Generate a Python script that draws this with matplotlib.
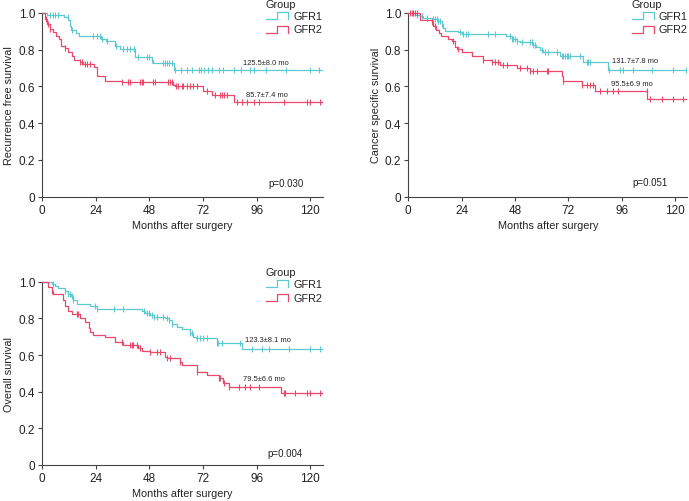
import matplotlib
matplotlib.use("Agg")
import matplotlib.pyplot as plt
from matplotlib.lines import Line2D
import numpy as np

plt.rcParams['font.family'] = ['Liberation Sans', 'DejaVu Sans']

CYAN = '#5cc8d2'
RED = '#e8496b'
END_T = 125

# ---- Recurrence free survival ----
rfs_g1_t = [2.4, 10, 11.7, 12.4, 13, 15, 16.6, 26.6, 28.8, 32.6, 34.8, 41.5, 49, 49.8, 59]
rfs_g1_s = [0.99, 0.98, 0.96, 0.93, 0.907, 0.89, 0.875, 0.858, 0.845, 0.822, 0.804, 0.758, 0.744, 0.727, 0.688]
rfs_g1_c = [3.5, 5, 6, 7, 11.5, 13.5, 23, 24.5, 26, 27, 29, 33, 36, 38, 39.5, 41, 43, 47, 48, 49,
            54, 55, 56, 57, 58, 59.5, 62, 65, 67, 70, 71, 72.5, 74, 76, 79, 81, 86, 89, 93, 95,
            100, 109, 120, 124]
rfs_g2_t = [1.2, 2.4, 3.4, 5, 6.4, 7.5, 8.4, 10.2, 11.7, 13.2, 14.2, 16.9, 18.4, 23.3, 24.4,
            28.1, 35.6, 58.7, 59.5, 72.2, 75.9, 86]
rfs_g2_s = [0.97, 0.94, 0.913, 0.895, 0.875, 0.858, 0.822, 0.81, 0.786, 0.764, 0.744, 0.735,
            0.72, 0.704, 0.659, 0.632, 0.622, 0.608, 0.6, 0.577, 0.552, 0.514]
rfs_g2_c = [2, 2.7, 3.4, 10.2, 16.9, 18, 19.1, 19.9, 21.4, 35.6, 38.6, 39.3, 43.8, 44.5, 45.3,
            49.8, 50.5, 56.5, 57.3, 58, 59.8, 61, 62.5, 63.2, 64.7, 66.2, 67.7, 69.2, 73.7, 77.4,
            79.7, 80.4, 81.2, 82.7, 87.1, 89.4, 91.6, 94.6, 96.9, 108.1, 118.6, 120, 124.5]

# ---- Cancer specific survival ----
css_g1_t = [3, 5.2, 6.8, 10.5, 13.5, 15, 15.8, 16.5, 22.5, 24, 44, 46.5, 48.8, 50.3, 56, 57.5,
            59.3, 60.8, 68.3, 78.5, 90]
css_g1_s = [0.99, 0.985, 0.975, 0.97, 0.958, 0.94, 0.92, 0.9, 0.895, 0.886, 0.873, 0.86, 0.849,
            0.84, 0.828, 0.815, 0.799, 0.786, 0.764, 0.735, 0.691]
css_g1_c = [3.75, 6, 8.3, 11.3, 12, 12.8, 13.5, 14.3, 15.2, 23.3, 24.8, 26, 27, 36, 39, 45.8,
            46.5, 47.3, 48, 48.8, 51, 54.8, 55.5, 56.3, 57, 60, 61.5, 63, 66.8, 69, 69.8, 70.5,
            71.3, 72, 72.8, 77.3, 80.3, 81, 81.8, 90.5, 95.3, 96.8, 101.3, 109.5, 119.3, 125]
css_g2_t = [5.2, 10.5, 11.3, 12.5, 14, 14.7, 18, 19.5, 21, 21.8, 24, 28.5, 33.8, 37.5, 41.3,
            48.8, 54.8, 69, 69.8, 78, 84, 107.6]
css_g2_s = [0.962, 0.95, 0.93, 0.907, 0.89, 0.877, 0.86, 0.846, 0.817, 0.804, 0.786, 0.768,
            0.746, 0.731, 0.716, 0.699, 0.683, 0.655, 0.632, 0.608, 0.577, 0.533]
css_g2_c = [0.75, 1.5, 2.3, 3, 3.75, 10.5, 12, 20.3, 22.5, 33.8, 37.5, 39, 40.5, 42.8, 44.3,
            50.3, 53.3, 54.8, 56.3, 57.8, 62.3, 63, 69.8, 78, 80.3, 81.8, 83.3, 86.3, 89.3,
            92.3, 94.5, 107.3, 108.8, 114, 119.3, 123.8]

# ---- Overall survival ----
os_g1_t = [4.3, 5.8, 7.3, 10.3, 11.5, 12.8, 14, 15.5, 21.5, 24.5, 44.6, 46, 48.4, 50, 55, 56.6,
           58, 60.3, 62.5, 66.3, 67.5, 69, 78.2, 89.4]
os_g1_s = [0.99, 0.978, 0.964, 0.95, 0.933, 0.92, 0.9, 0.878, 0.869, 0.851, 0.84, 0.83, 0.818,
           0.81, 0.8, 0.79, 0.769, 0.755, 0.742, 0.72, 0.7, 0.691, 0.664, 0.631]
os_g1_c = [5, 10.3, 11.8, 12.5, 13.3, 14, 23.7, 24.5, 32, 36.4, 45.4, 46.9, 48, 49.1, 50.1, 51.3,
           54.3, 55.8, 56.6, 58, 66.3, 67, 69.3, 70.7, 72.2, 73.7, 78.2, 78.9, 80.4, 88.7, 93.9,
           98.4, 101.3, 110.4, 120, 124.5]
os_g2_t = [2.8, 4.3, 4.8, 9.6, 10.3, 11.8, 13.3, 17, 19.3, 20.8, 21.6, 23, 28.2, 32.8, 36.4, 43,
           44.6, 48.4, 55, 55.8, 61.8, 62.5, 69.3, 73.7, 79, 81, 83.4, 107]
os_g2_s = [0.97, 0.95, 0.933, 0.9, 0.869, 0.84, 0.824, 0.8, 0.782, 0.75, 0.724, 0.711, 0.696,
           0.673, 0.655, 0.64, 0.624, 0.615, 0.59, 0.582, 0.56, 0.545, 0.509, 0.491, 0.475, 0.45,
           0.427, 0.391]
os_g2_c = [4.3, 15.5, 16.3, 35.7, 39.4, 40.1, 40.9, 42.4, 43.9, 48.4, 51.3, 52.8, 55.8, 57.3,
           61.8, 69.3, 79, 79.7, 81.2, 83.4, 87.9, 90.9, 93.1, 96.9, 108.1, 108.8, 113.3, 118.5,
           120, 124.5]

panels = [
    dict(rect=(42, 14, 322.7, 197.7), ylabel='Recurrence free survival',
         g1=(rfs_g1_t, rfs_g1_s, rfs_g1_c), g2=(rfs_g2_t, rfs_g2_s, rfs_g2_c),
         txt1=('125.5±8.0 mo', 99.9, 0.732), txt2=('85.7±7.4 mo', 100.6, 0.559),
         p=('p=0.030', 101.2, 0.075), leg=(266, 5)),
    dict(rect=(408.3, 14, 687.2, 197.7), ylabel='Cancer specific survival',
         g1=(css_g1_t, css_g1_s, css_g1_c), g2=(css_g2_t, css_g2_s, css_g2_c),
         txt1=('131.7±7.8 mo', 102, 0.74), txt2=('95.5±6.9 mo', 100.7, 0.617),
         p=('p=0.051', 101, 0.078), leg=(631.5, 5)),
    dict(rect=(42, 282.7, 322.7, 466), ylabel='Overall survival',
         g1=(os_g1_t, os_g1_s, os_g1_c), g2=(os_g2_t, os_g2_s, os_g2_c),
         txt1=('123.3±8.1 mo', 101.2, 0.682), txt2=('79.5±6.6 mo', 99.4, 0.473),
         p=('p=0.004', 100.6, 0.064), leg=(266, 273)),
]

W, H = 689, 502
fig = plt.figure(figsize=(W / 100, H / 100), dpi=100)


def fx(px):
    return px / W


def fy(py):
    return 1 - py / H


def km(ax, times, surv, cens, color):
    t = np.array([0] + times + [END_T])
    s = np.array([1.0] + surv + [surv[-1]])
    ax.step(t, s, where='post', color=color, lw=0.9, clip_on=False, zorder=3)
    c = np.array(cens)
    idx = np.searchsorted(t, c, side='right') - 1
    ax.plot(c, s[idx], ls='none', marker='|', ms=4.5, mew=0.8, color=color,
            clip_on=False, zorder=3)


def legend_icon(x, y, color):
    xs = [x, x + 11, x + 11, x + 22, x + 22]
    ys = [y + 3, y + 3, y - 4, y - 4, y + 3]
    fig.add_artist(Line2D([fx(v) for v in xs], [fy(v) for v in ys],
                          color=color, lw=0.9, transform=fig.transFigure))


for p in panels:
    l, t, r, b = p['rect']
    ax = fig.add_axes([fx(l), fy(b), fx(r) - fx(l), fy(t) - fy(b)])
    km(ax, *p['g1'], CYAN)
    km(ax, *p['g2'], RED)
    ax.set_xlim(0, 125.5)
    ax.set_ylim(0, 1.0)
    ax.set_xticks([0, 24, 48, 72, 96, 120])
    ax.set_yticks([0, 0.2, 0.4, 0.6, 0.8, 1.0])
    ax.set_yticklabels(['0', '0.2', '0.4', '0.6', '0.8', '1.0'])
    for side in ['top', 'right']:
        ax.spines[side].set_visible(False)
    for side in ['left', 'bottom']:
        ax.spines[side].set_color('#444444')
        ax.spines[side].set_linewidth(0.8)
    ax.tick_params(length=3, width=0.8, color='#444444', labelsize=8.5,
                   labelcolor='#222222', pad=2)
    ax.set_xlabel('Months after surgery', fontsize=7.8, color='#222222', labelpad=3)
    ax.set_ylabel(p['ylabel'], fontsize=7.8, color='#222222', labelpad=3)
    for txt, tx, ty in [p['txt1'], p['txt2']]:
        ax.text(tx, ty, txt, fontsize=5.4, ha='center', va='center', color='#222222')
    ptxt, px_, py_ = p['p']
    ax.text(px_, py_, ptxt, fontsize=7, ha='left', va='center', color='#222222')

    gx, gy = p['leg']
    fig.text(fx(gx), fy(gy), 'Group', fontsize=7.8, ha='left', va='center', color='#222222')
    legend_icon(gx, gy + 12, CYAN)
    fig.text(fx(gx + 27), fy(gy + 12), 'GFR1', fontsize=7.8, ha='left', va='center',
             color='#222222')
    legend_icon(gx, gy + 25.5, RED)
    fig.text(fx(gx + 27), fy(gy + 25.5), 'GFR2', fontsize=7.8, ha='left', va='center',
             color='#222222')

fig.savefig('out.png', dpi=100)
